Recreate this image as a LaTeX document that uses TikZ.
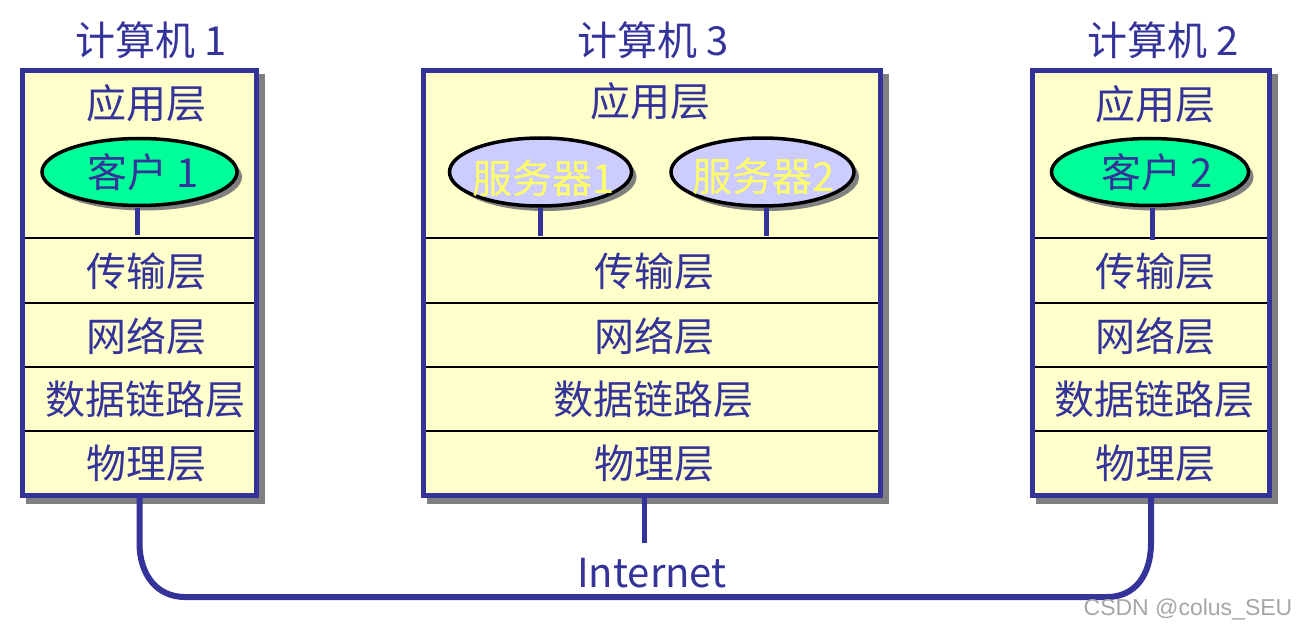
\documentclass[tikz,border=0pt]{standalone}
\usepackage{fontspec}
\setmainfont{Noto Sans CJK SC}
\newfontfamily\wmfont{Liberation Sans}
\usetikzlibrary{shapes.geometric,calc}
\definecolor{myblue}{HTML}{333399}
\definecolor{boxfill}{HTML}{FFFFCC}
\definecolor{cgreen}{HTML}{00FF99}
\definecolor{slav}{HTML}{CCCCFF}
\definecolor{syel}{HTML}{FFFF66}
\definecolor{shad}{HTML}{808080}
\begin{document}
\begin{tikzpicture}[x=1pt,y=-1pt,
  box/.style={rectangle,draw=myblue,line width=5pt,fill=boxfill,inner sep=0pt,outer sep=0pt},
  shadowbox/.style={rectangle,draw=shad,line width=5pt,fill=shad,inner sep=0pt,outer sep=0pt},
  txt/.style={text=myblue,font=\fontsize{40}{44}\selectfont,inner sep=0pt},
  stxt/.style={text=syel,font=\fontsize{40}{44}\selectfont,inner sep=0pt},
  ell/.style={ellipse,draw=black,line width=3.5pt,inner sep=0pt,outer sep=0pt},
  shell/.style={ellipse,fill=shad,inner sep=0pt,outer sep=0pt},
  divider/.style={draw=black,line width=2pt,shorten <=2.5pt,shorten >=2.5pt},
  stub/.style={draw=myblue,line width=5pt},
  net/.style={draw=myblue,line width=6pt}]
\useasboundingbox (0,0) rectangle (1300,631);

% titles
\node[txt] (t1) at (151,40) {计算机 1};
\node[txt] (t3) at (653,40) {计算机 3};
\node[txt] (t2) at (1163,40) {计算机 2};

% coordinates of the network line
\coordinate (bl) at (185,597);
\coordinate (br) at (1107,597);

% shadows
\node[shadowbox,minimum width=234pt,minimum height=424pt] (s1) at (145.5,289) {};
\node[shadowbox,minimum width=456.5pt,minimum height=424pt] (s3) at (657.75,289) {};
\node[shadowbox,minimum width=237pt,minimum height=424pt] (s2) at (1157,289) {};

% boxes
\node[box,minimum width=234pt,minimum height=424pt] (c1) at (139.5,283) {};
\node[box,minimum width=456.5pt,minimum height=424pt] (c3) at (651.75,283) {};
\node[box,minimum width=237pt,minimum height=424pt] (c2) at (1151,283) {};

% network
\draw[net] (c1.south) -- ++(0,48) .. controls +(0,32) and +(-28,0) .. (bl) -- (br)
  .. controls +(28,0) and +(0,32) .. ($(c2.south)+(0,48)$) -- (c2.south);
\draw[stub] ($(c3.south)+(-7,2)$) -- ++(0,46);
\node[txt] (inet) at (652,573) {Internet};

% dividers
\foreach \b in {c1,c3,c2}{
  \foreach \yy in {238,303,367,431}{
    \draw[divider] (\b.west |- 0,\yy) -- (\b.east |- 0,\yy);
  }
}

% layer labels
\node[txt] (a1) at (146,103) {应用层};
\node[txt] (a3) at (650,101) {应用层};
\node[txt] (a2) at (1155,104) {应用层};
\foreach \b/\x in {1/146,3/654,2/1155}{
  \node[txt] (tr\b) at (\x,271) {传输层};
  \node[txt] (nw\b) at (\x,336) {网络层};
  \node[txt] (dl\b) at (\x-1,399) {数据链路层};
  \node[txt] (ph\b) at (\x,463) {物理层};
}

% ellipses
\node[shell,minimum width=195pt,minimum height=67pt] at (144.5,177) {};
\node[ell,fill=cgreen,minimum width=195pt,minimum height=67pt] (e1) at (139.5,172) {};
\node[txt] (e1t) at (143,172) {客户 1};

\node[shell,minimum width=182pt,minimum height=68pt] at (545.5,177) {};
\node[ell,fill=slav,minimum width=182pt,minimum height=68pt] (s1e) at (540.5,172) {};
\node[stxt] (s1t) at (544,178) {服务器1};

\node[shell,minimum width=183pt,minimum height=68pt] at (767.5,177) {};
\node[ell,fill=slav,minimum width=183pt,minimum height=68pt] (s2e) at (762.5,172) {};
\node[stxt] (s2t) at (764,176) {服务器2};

\node[shell,minimum width=197pt,minimum height=67pt] at (1155,177) {};
\node[ell,fill=cgreen,minimum width=197pt,minimum height=67pt] (e2) at (1150,172) {};
\node[txt] (e2t) at (1157,172) {客户 2};

% stubs
\draw[stub] ($(e1.south)+(-2,2)$) -- ($(e1.south |- 0,235)+(-2,0)$);
\draw[stub] ($(s1e.south)+(0,2)$) -- (s1e.south |- 0,236);
\draw[stub] ($(s2e.south)+(4,2)$) -- ($(s2e.south |- 0,236)+(4,0)$);
\draw[stub] ($(e2.south)+(2,2)$) -- ($(e2.south |- 0,240)+(2,0)$);

% watermark
\node[text=white,font=\wmfont\fontsize{23}{26}\selectfont,inner sep=0pt] at (1189.5,610.5) {CSDN @colus\_SEU};
\node[text=black!35,font=\wmfont\fontsize{23}{26}\selectfont,inner sep=0pt] (wm) at (1188,609) {CSDN @colus\_SEU};
\end{tikzpicture}
\end{document}
